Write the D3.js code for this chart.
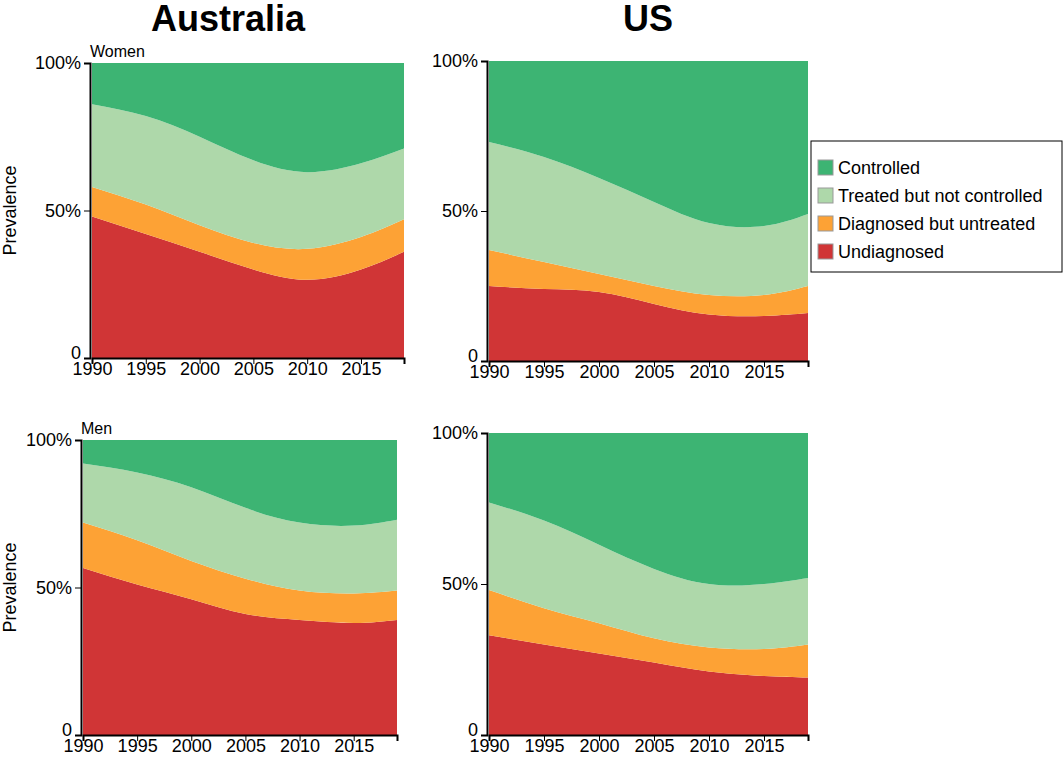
<!DOCTYPE html>
<html><head><meta charset="utf-8">
<script src="https://cdn.jsdelivr.net/npm/d3@7"></script>
<style>body{margin:0;background:#fff;font-family:"Liberation Sans",Arial,sans-serif;}</style>
</head><body>
<div id="chart"></div>
<script>
var years = [1990, 1995, 2000, 2005, 2010, 2015, 2019];
var series = ["Undiagnosed", "Diagnosed but untreated", "Treated but not controlled", "Controlled"];
var colors = ["#d03536", "#fda235", "#aed8aa", "#3db473"];

// cumulative shares from the bottom (undiagnosed, +untreated, +treated not controlled)
var auWomen = [[0.48,0.42,0.36,0.30,0.265,0.30,0.36],[0.58,0.52,0.45,0.39,0.37,0.41,0.47],[0.86,0.82,0.75,0.67,0.63,0.66,0.71]];
var usWomen = [[0.25,0.24,0.23,0.19,0.155,0.15,0.16],[0.37,0.33,0.29,0.25,0.22,0.22,0.25],[0.73,0.68,0.61,0.53,0.46,0.45,0.49]];
var auMen = [[0.566,0.51,0.46,0.41,0.39,0.38,0.39],[0.72,0.66,0.59,0.53,0.49,0.48,0.49],[0.92,0.89,0.84,0.77,0.72,0.71,0.73]];
var usMen = [[0.33,0.30,0.27,0.24,0.21,0.195,0.19],[0.48,0.42,0.37,0.32,0.29,0.285,0.30],[0.77,0.71,0.63,0.55,0.50,0.50,0.52]];

var panels = [
  {data: auWomen, x0: 90, x1: 404, y0: 63, y1: 358, label: "Women", ylab: true},
  {data: usWomen, x0: 487, x1: 808, y0: 61, y1: 361},
  {data: auMen, x0: 81, x1: 397, y0: 440, y1: 735, label: "Men", ylab: true},
  {data: usMen, x0: 487, x1: 808, y0: 433, y1: 735}
];

var svg = d3.select("#chart").append("svg").attr("width", 1064).attr("height", 766);

svg.append("text").attr("x", 228).attr("y", 31).attr("text-anchor", "middle")
  .attr("font-size", 36).attr("font-weight", "bold").text("Australia");
svg.append("text").attr("x", 648).attr("y", 31).attr("text-anchor", "middle")
  .attr("font-size", 36).attr("font-weight", "bold").text("US");

panels.forEach(function(p) {
  var x = d3.scaleLinear().domain([1990, 2019]).range([p.x0 + 2, p.x1]);
  var y = d3.scaleLinear().domain([0, 1]).range([p.y1, p.y0]);
  var g = svg.append("g");
  var layers = [years.map(function(){return 0;})].concat(p.data).concat([years.map(function(){return 1;})]);
  for (var i = 0; i < 4; i++) {
    var lo = layers[i], hi = layers[i + 1];
    var area = d3.area().curve(d3.curveNatural)
      .x(function(d, j){ return x(years[j]); })
      .y0(function(d, j){ return y(lo[j]); })
      .y1(function(d, j){ return y(hi[j]); });
    g.append("path").attr("d", area(years)).attr("fill", colors[i]);
  }
  var ya = g.append("g").attr("transform", "translate(" + p.x0 + ",0)")
    .call(d3.axisLeft(y).tickValues([0, 0.5, 1]).tickSize(6)
      .tickFormat(function(d){ return d === 0 ? "0" : Math.round(d * 100) + "%"; }));
  var xa = g.append("g").attr("transform", "translate(0," + p.y1 + ")")
    .call(d3.axisBottom(x).tickValues([1990, 1995, 2000, 2005, 2010, 2015]).tickSize(6).tickFormat(d3.format("d")));
  [ya, xa].forEach(function(a) {
    a.select(".domain").attr("stroke-width", 2);
    a.selectAll("text").attr("font-size", 18).attr("fill", "#000").attr("font-family", "Liberation Sans, Arial, sans-serif");
  });
  ya.selectAll("text").attr("dy", function(d){ return d === 0 ? "0" : "0.32em"; });
  xa.selectAll("text").attr("dy", "0.45em");
  if (p.label) g.append("text").attr("x", p.x0).attr("y", p.y0 - 6).attr("font-size", 16).text(p.label);
  if (p.ylab) g.append("text").attr("transform", "translate(16," + ((p.y0 + p.y1) / 2) + ") rotate(-90)")
    .attr("text-anchor", "middle").attr("font-size", 18).text("Prevalence");
});

var lg = svg.append("g").attr("transform", "translate(811,141)");
lg.append("rect").attr("width", 251).attr("height", 131).attr("fill", "#fff").attr("stroke", "#000");
var order = [3, 2, 1, 0];
order.forEach(function(k, i) {
  var yy = 28 + i * 28;
  lg.append("rect").attr("x", 7).attr("y", yy - 9).attr("width", 15).attr("height", 15)
    .attr("fill", colors[k]).attr("stroke", "#999");
  lg.append("text").attr("x", 27).attr("y", yy + 5).attr("font-size", 18).text(series[k]);
});
</script>
</body></html>
